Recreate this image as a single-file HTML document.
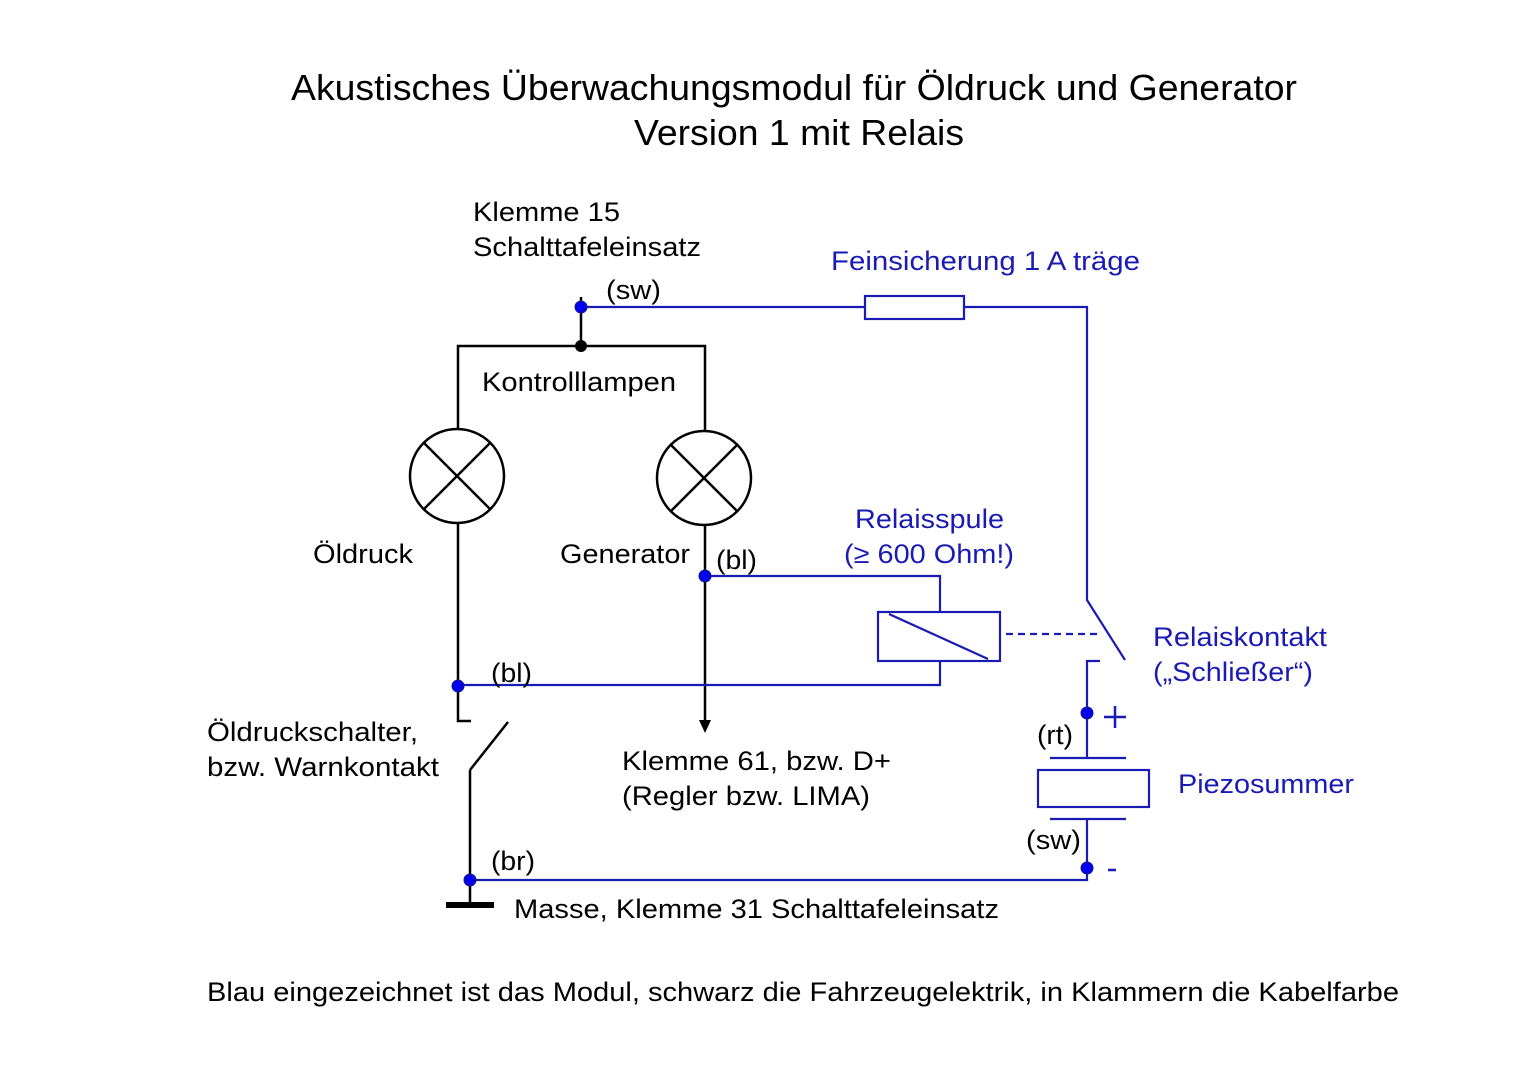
<!DOCTYPE html>
<html><head><meta charset="utf-8"><style>
html,body{margin:0;padding:0;background:#fff;}
svg{display:block;}
text{font-family:"Liberation Sans",sans-serif;}
.k{fill:#000;font-size:27px;}
.b{fill:#1a1ab4;font-size:27px;}
</style></head><body>
<svg width="1514" height="1067" viewBox="0 0 1514 1067" xmlns="http://www.w3.org/2000/svg">
<rect width="1514" height="1067" fill="#fff"/>
<text x="794" y="100" text-anchor="middle" font-size="36" textLength="1006" lengthAdjust="spacingAndGlyphs">Akustisches Überwachungsmodul für Öldruck und Generator</text>
<text x="799" y="145" text-anchor="middle" font-size="36" textLength="330" lengthAdjust="spacingAndGlyphs">Version 1 mit Relais</text>

<g stroke="#000" stroke-width="2.5" fill="none">
<line x1="581" y1="297" x2="581" y2="346"/>
<polyline points="458,429 458,346 705,346 705,430"/>
<circle cx="457" cy="476" r="47"/>
<circle cx="704" cy="478" r="47"/>
<line x1="424" y1="443" x2="490" y2="509"/><line x1="490" y1="443" x2="424" y2="509"/>
<line x1="671" y1="445" x2="737" y2="511"/><line x1="737" y1="445" x2="671" y2="511"/>
<polyline points="458,524 458,721 471,721"/>
<line x1="470" y1="770" x2="508" y2="722"/>
<line x1="470" y1="770" x2="470" y2="905"/>
<line x1="705" y1="526" x2="705" y2="722"/>
</g>
<polygon points="699,720 711,720 705,733" fill="#000"/>
<rect x="446" y="902" width="48" height="6" fill="#000"/>
<circle cx="581" cy="346" r="6" fill="#000"/>

<g stroke="#1a1ab4" stroke-width="2.2" fill="none">
<line x1="581" y1="307" x2="865" y2="307"/>
<rect x="865" y="296" width="99" height="23"/>
<polyline points="964,307 1087,307 1087,600 1125,660"/>
<polyline points="705,576 940,576 940,612"/>
<rect x="878" y="612" width="122" height="49"/>
<line x1="889" y1="614" x2="988" y2="659"/>
<polyline points="458,685 940,685 940,661"/>
<line x1="1006" y1="634" x2="1100" y2="634" stroke-dasharray="7,5"/>
<polyline points="1100,661 1087,661 1087,758"/>
<line x1="1050" y1="758" x2="1126" y2="758"/>
<rect x="1038" y="770" width="111" height="37"/>
<line x1="1050" y1="819" x2="1126" y2="819"/>
<polyline points="1087,819 1087,880 470,880"/>
<line x1="1104" y1="717" x2="1126" y2="717" stroke-width="2.5"/>
<line x1="1115" y1="706" x2="1115" y2="728" stroke-width="2.5"/>
<line x1="1108" y1="870" x2="1116" y2="870" stroke-width="2.5"/>
</g>
<g fill="#0000ee" stroke="#1a1a80" stroke-width="1">
<circle cx="581" cy="307" r="6"/>
<circle cx="705" cy="576" r="6"/>
<circle cx="458" cy="686" r="6"/>
<circle cx="470" cy="880" r="6"/>
<circle cx="1087" cy="713" r="6"/>
<circle cx="1087" cy="868" r="6"/>
</g>

<text class="k" x="473" y="221" textLength="147" lengthAdjust="spacingAndGlyphs">Klemme 15</text>
<text class="k" x="473" y="256" textLength="228" lengthAdjust="spacingAndGlyphs">Schalttafeleinsatz</text>
<text class="k" x="606" y="299" textLength="55" lengthAdjust="spacingAndGlyphs">(sw)</text>
<text class="k" x="482" y="391" textLength="194" lengthAdjust="spacingAndGlyphs">Kontrolllampen</text>
<text class="k" x="313" y="563" textLength="100" lengthAdjust="spacingAndGlyphs">Öldruck</text>
<text class="k" x="560" y="563" textLength="130" lengthAdjust="spacingAndGlyphs">Generator</text>
<text class="k" x="716" y="569" textLength="41" lengthAdjust="spacingAndGlyphs">(bl)</text>
<text class="k" x="491" y="682" textLength="41" lengthAdjust="spacingAndGlyphs">(bl)</text>
<text class="k" x="207" y="741" textLength="211" lengthAdjust="spacingAndGlyphs">Öldruckschalter,</text>
<text class="k" x="207" y="776" textLength="232" lengthAdjust="spacingAndGlyphs">bzw. Warnkontakt</text>
<text class="k" x="622" y="770" textLength="269" lengthAdjust="spacingAndGlyphs">Klemme 61, bzw. D+</text>
<text class="k" x="622" y="805" textLength="248" lengthAdjust="spacingAndGlyphs">(Regler bzw. LIMA)</text>
<text class="k" x="491" y="870" textLength="44" lengthAdjust="spacingAndGlyphs">(br)</text>
<text class="k" x="514" y="918" textLength="485" lengthAdjust="spacingAndGlyphs">Masse, Klemme 31 Schalttafeleinsatz</text>
<text class="k" x="1037" y="744" textLength="36" lengthAdjust="spacingAndGlyphs">(rt)</text>
<text class="k" x="1026" y="849" textLength="55" lengthAdjust="spacingAndGlyphs">(sw)</text>
<text class="k" x="207" y="1001" textLength="1192" lengthAdjust="spacingAndGlyphs">Blau eingezeichnet ist das Modul, schwarz die Fahrzeugelektrik, in Klammern die Kabelfarbe</text>

<text class="b" x="831" y="270" textLength="309" lengthAdjust="spacingAndGlyphs">Feinsicherung 1 A träge</text>
<text class="b" x="855" y="528" textLength="149" lengthAdjust="spacingAndGlyphs">Relaisspule</text>
<text class="b" x="844" y="563" textLength="170" lengthAdjust="spacingAndGlyphs">(≥ 600 Ohm!)</text>
<text class="b" x="1153" y="646" textLength="174" lengthAdjust="spacingAndGlyphs">Relaiskontakt</text>
<text class="b" x="1153" y="681" textLength="160" lengthAdjust="spacingAndGlyphs">(„Schließer“)</text>
<text class="b" x="1178" y="793" textLength="176" lengthAdjust="spacingAndGlyphs">Piezosummer</text>
</svg>
</body></html>
